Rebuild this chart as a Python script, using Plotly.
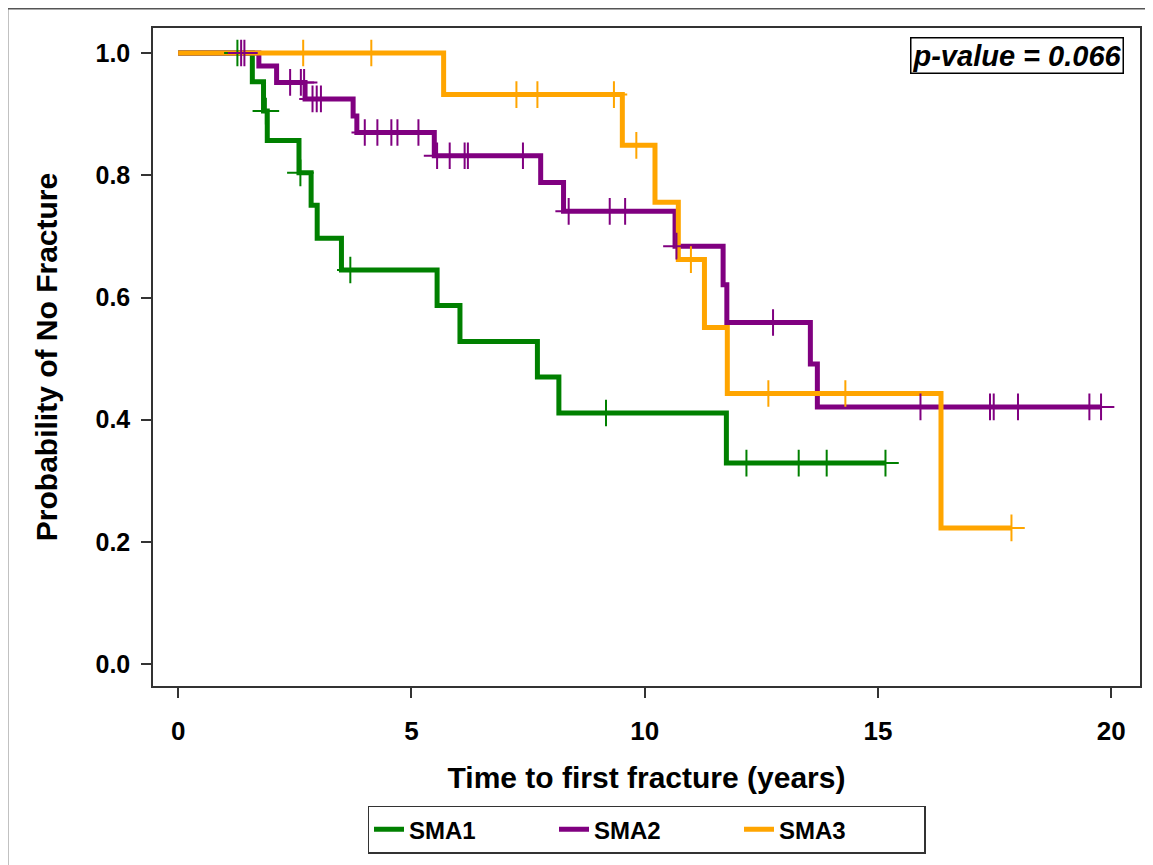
import numpy as np
import plotly.graph_objects as go

# ---------------- data ----------------
groups = ["SMA1", "SMA2", "SMA3"]

sma1_event_times = [1.59, 1.83, 1.91, 2.59, 2.85, 2.98, 3.50, 5.55, 6.04, 7.70, 8.16, 11.75]
sma1_survival    = [0.953, 0.905, 0.857, 0.804, 0.751, 0.697, 0.645, 0.587, 0.528, 0.470, 0.411, 0.329]
sma1_censor      = [1.27, 1.88, 2.62, 3.69, 9.17, 12.18, 13.30, 13.90, 15.16]

sma2_event_times = [1.73, 2.11, 2.72, 3.75, 3.83, 5.49, 7.77, 8.26, 10.65, 11.68, 11.76, 13.55, 13.70]
sma2_survival    = [0.979, 0.952, 0.925, 0.897, 0.870, 0.832, 0.788, 0.741, 0.684, 0.621, 0.559, 0.491, 0.421]
sma2_censor      = [1.35, 1.42, 2.40, 2.63, 2.70, 2.88, 2.97, 3.06, 4.00, 4.27, 4.57, 4.70, 5.15,
                    5.55, 5.82, 6.14, 6.21, 7.39, 8.37, 9.25, 9.58, 10.68, 12.75, 15.91, 17.40,
                    17.48, 18.00, 19.53, 19.78]

sma3_event_times = [5.69, 9.52, 10.22, 10.72, 11.28, 11.77, 16.35]
sma3_survival    = [0.932, 0.849, 0.756, 0.662, 0.551, 0.443, 0.223]
sma3_censor      = [2.68, 4.14, 7.25, 7.70, 9.34, 9.82, 10.99, 12.65, 14.30, 17.86]

colors = ["#008000", "#800080", "#FFA500"]

x_ticks = [0, 5, 10, 15, 20]
y_ticks = [0.0, 0.2, 0.4, 0.6, 0.8, 1.0]
y_tick_labels = ["0.0", "0.2", "0.4", "0.6", "0.8", "1.0"]

p_value_text = "p-value = 0.066"
x_title = "Time to first fracture (years)"
y_title = "Probability of No Fracture"

# ---------------- figure ----------------
FONT = "Liberation Sans, Arial, Helvetica, sans-serif"
fig = go.Figure()

series = [
    (sma1_event_times, sma1_survival, sma1_censor),
    (sma2_event_times, sma2_survival, sma2_censor),
    (sma3_event_times, sma3_survival, sma3_censor),
]


def surv_at(times, surv, t):
    idx = np.searchsorted(np.asarray(times), t, side="right")
    return 1.0 if idx == 0 else surv[idx - 1]


for name, (et, sv, cens), col in zip(groups, series, colors):
    end_t = max(max(cens), max(et))
    xs = [0.0] + list(et) + [end_t]
    ys = [1.0] + list(sv) + [sv[-1]]
    fig.add_trace(go.Scatter(
        x=xs, y=ys, mode="lines", name=name, legendgroup=name,
        line=dict(color=col, width=5, shape="hv"),
        hoverinfo="skip",
    ))

for name, (et, sv, cens), col in zip(groups, series, colors):
    cy = [surv_at(et, sv, t) for t in cens]
    fig.add_trace(go.Scatter(
        x=cens, y=cy, mode="markers", name=name + " censored", legendgroup=name,
        showlegend=False,
        marker=dict(symbol="cross-thin", size=19, color=col,
                    line=dict(color=col, width=2)),
        hoverinfo="skip",
    ))

axis_col = "#333333"
# the page body adds an 8px offset, so the figure is 8px smaller than the window
fig.update_layout(
    width=1145, height=857, autosize=False,
    margin=dict(l=145, r=11, t=20, b=173),
    paper_bgcolor="white", plot_bgcolor="white",
    font=dict(family=FONT, color="black"),
    showlegend=True,
    legend=dict(
        orientation="h", x=0.5, xanchor="center", y=-0.182, yanchor="top",
        bordercolor=axis_col, borderwidth=1.5, bgcolor="white",
        font=dict(family=FONT, size=24, weight="bold", color="black"),
        entrywidth=140, itemwidth=30, traceorder="normal",
    ),
    xaxis=dict(
        range=[-0.539, 20.615], tickvals=x_ticks, ticks="outside", ticklen=10,
        tickwidth=1.5, tickcolor=axis_col, showline=True, linecolor=axis_col,
        linewidth=1.5, mirror=True, showgrid=False, zeroline=False,
        tickfont=dict(family=FONT, size=26, weight="bold"),
        ticklabelstandoff=11,
        title=dict(text=x_title, standoff=22,
                   font=dict(family=FONT, size=30, weight="bold")),
    ),
    yaxis=dict(
        range=[-0.0357, 1.041], tickvals=y_ticks, ticktext=y_tick_labels,
        ticks="outside", ticklen=10,
        tickwidth=1.5, tickcolor=axis_col, showline=True, linecolor=axis_col,
        linewidth=1.5, mirror=True, showgrid=False, zeroline=False,
        tickfont=dict(family=FONT, size=25, weight="bold"),
        ticklabelstandoff=6,
        title=dict(text=y_title, standoff=29,
                   font=dict(family=FONT, size=30, weight="bold")),
    ),
    shapes=[dict(type="rect", xref="paper", yref="paper",
                 x0=-0.1473, x1=1.0082, y0=-0.2756, y1=1.0294,
                 line=dict(color="#555555", width=1.5), fillcolor="rgba(0,0,0,0)",
                 layer="below")],
    annotations=[dict(
        text=p_value_text, xref="paper", yref="paper", x=0.8756, y=0.9589,
        xanchor="center", yanchor="middle", showarrow=False,
        font=dict(family=FONT, size=29, weight="bold", style="italic", color="black"),
        bordercolor="black", borderwidth=1.5, borderpad=1, bgcolor="white",
    )],
)

fig.write_html("out.html")
